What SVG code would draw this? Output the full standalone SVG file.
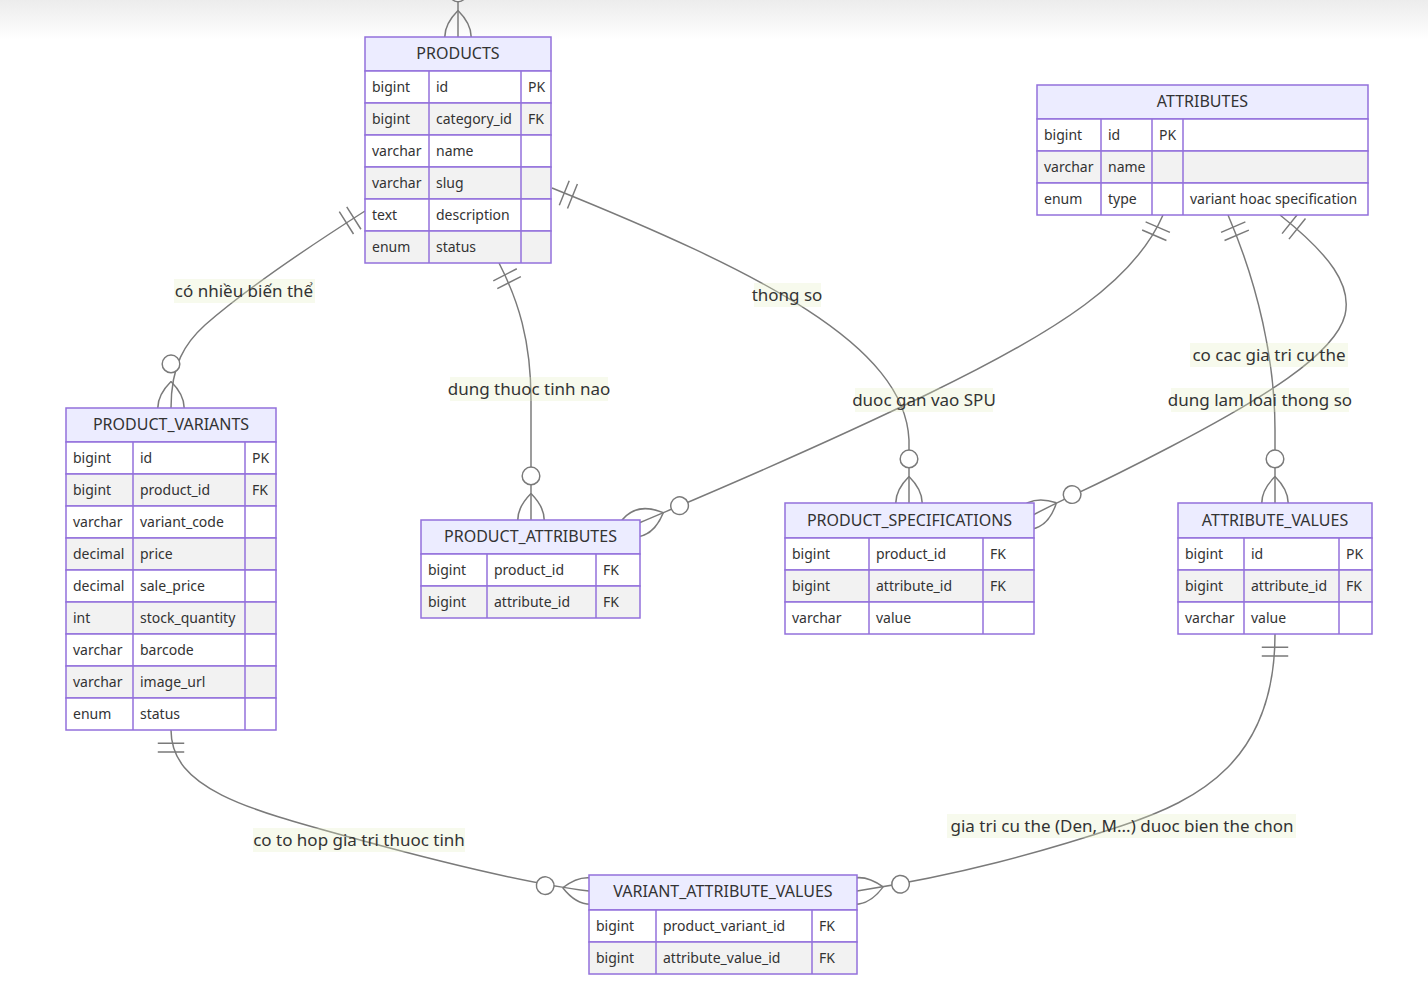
<svg xmlns="http://www.w3.org/2000/svg" width="1428" height="992" viewBox="0 0 1428 992">
<defs>
<linearGradient id="topShade" x1="0" y1="0" x2="0" y2="1">
<stop offset="0" stop-color="#ececec"/>
<stop offset="1" stop-color="#ffffff"/>
</linearGradient>
<marker id="oneStart" refX="0" refY="9" markerWidth="18" markerHeight="18" orient="auto" overflow="visible">
<path d="M9,0 L9,18 M15,0 L15,18" class="mk"/>
</marker>
<marker id="manyEnd" refX="39" refY="18" markerWidth="57" markerHeight="36" orient="auto" overflow="visible">
<circle cx="9" cy="18" r="6" class="mkc"/>
<path d="M21,18 Q39,0 57,18 Q39,36 21,18" class="mk"/>
</marker>
</defs>
<style>
.mk{fill:none;stroke:#7a7a7a;stroke-width:1}
.mkc{fill:#ffffff;stroke:#7a7a7a;stroke-width:1}
.rel{fill:none;stroke:#7a7a7a;stroke-width:1.47;marker-start:url(#oneStart);marker-end:url(#manyEnd)}
.relnostart{fill:none;stroke:#7a7a7a;stroke-width:1.47;marker-end:url(#manyEnd)}
.lblbg{fill:#e1eec0;opacity:0.28}
.lbl{font-family:"Noto Sans",sans-serif;font-size:17px;fill:#333;text-anchor:middle}
.hd{fill:#ececff;stroke:#9370db;stroke-width:1.5}
.ro{fill:#ffffff;stroke:#9370db;stroke-width:1.5}
.re{fill:#f2f2f2;stroke:#9370db;stroke-width:1.5}
.cl{stroke:#9370db;stroke-width:1.5}
.ht{font-family:"Noto Sans",sans-serif;font-size:16px;fill:#333;text-anchor:middle}
.t{font-family:"Noto Sans",sans-serif;font-size:14px;fill:#333}
</style>
<rect x="0" y="0" width="1428" height="992" fill="#ffffff"/>
<rect x="0" y="0" width="1428" height="40" fill="url(#topShade)"/>

<g id="connectors">
<path class="relnostart" d="M458,-80 L458,37"/>
<path class="rel" d="M365,211 C310,246 245,290 205,325 C185,343 171,365 171,408"/>
<path class="rel" d="M499,263 C518,300 531,340 531,400 L531,520"/>
<path class="rel" d="M552,188 C760,272 905,345 909,440 L909,503"/>
<path class="rel" d="M1163,215 C1135,280 1060,330 930,393 S700,497 639,523"/>
<path class="rel" d="M1228,215 C1258,285 1275,360 1275,430 L1275,503"/>
<path class="rel" d="M1280,215 C1330,255 1352,285 1345,315 C1335,355 1260,400 1170,447 S1075,493 1033,515"/>
<path class="rel" d="M171,730 C171,790 250,810 360,840 S540,885 589,891"/>
<path class="rel" d="M1275,634 C1275,760 1200,800 1121,826 S960,875 857,891"/>
<g id="labels">
<rect class="lblbg" x="174" y="279" width="141" height="24"/>
<text class="lbl" x="244" y="297">có nhiều biến thể</text>
<rect class="lblbg" x="450" y="377" width="158" height="24"/>
<text class="lbl" x="529" y="395">dung thuoc tinh nao</text>
<rect class="lblbg" x="754" y="283" width="67" height="24"/>
<text class="lbl" x="787" y="301">thong so</text>
<rect class="lblbg" x="855" y="388" width="138" height="24"/>
<text class="lbl" x="924" y="406">duoc gan vao SPU</text>
<rect class="lblbg" x="1190" y="343" width="158" height="24"/>
<text class="lbl" x="1269" y="361">co cac gia tri cu the</text>
<rect class="lblbg" x="1171" y="388" width="178" height="24"/>
<text class="lbl" x="1260" y="406">dung lam loai thong so</text>
<rect class="lblbg" x="253" y="828" width="212" height="24"/>
<text class="lbl" x="359" y="846">co to hop gia tri thuoc tinh</text>
<rect class="lblbg" x="947" y="814" width="349" height="24"/>
<text class="lbl" x="1122" y="832">gia tri cu the (Den, M...) duoc bien the chon</text>
</g>
</g>

<g id="PRODUCTS">
<rect class="hd" x="365" y="37" width="186" height="34"/>
<text class="ht" x="458" y="59">PRODUCTS</text>
<rect class="ro" x="365" y="71" width="186" height="32"/>
<rect class="re" x="365" y="103" width="186" height="32"/>
<rect class="ro" x="365" y="135" width="186" height="32"/>
<rect class="re" x="365" y="167" width="186" height="32"/>
<rect class="ro" x="365" y="199" width="186" height="32"/>
<rect class="re" x="365" y="231" width="186" height="32"/>
<line class="cl" x1="429" y1="71" x2="429" y2="263"/>
<line class="cl" x1="521" y1="71" x2="521" y2="263"/>
<text class="t" x="372" y="92">bigint</text><text class="t" x="436" y="92">id</text><text class="t" x="528" y="92">PK</text>
<text class="t" x="372" y="124">bigint</text><text class="t" x="436" y="124">category_id</text><text class="t" x="528" y="124">FK</text>
<text class="t" x="372" y="156">varchar</text><text class="t" x="436" y="156">name</text>
<text class="t" x="372" y="188">varchar</text><text class="t" x="436" y="188">slug</text>
<text class="t" x="372" y="220">text</text><text class="t" x="436" y="220">description</text>
<text class="t" x="372" y="252">enum</text><text class="t" x="436" y="252">status</text>
</g>

<g id="ATTRIBUTES">
<rect class="hd" x="1037" y="85" width="331" height="34"/>
<text class="ht" x="1202.5" y="107">ATTRIBUTES</text>
<rect class="ro" x="1037" y="119" width="331" height="32"/>
<rect class="re" x="1037" y="151" width="331" height="32"/>
<rect class="ro" x="1037" y="183" width="331" height="32"/>
<line class="cl" x1="1101" y1="119" x2="1101" y2="215"/>
<line class="cl" x1="1152" y1="119" x2="1152" y2="215"/>
<line class="cl" x1="1183" y1="119" x2="1183" y2="215"/>
<text class="t" x="1044" y="140">bigint</text><text class="t" x="1108" y="140">id</text><text class="t" x="1159" y="140">PK</text>
<text class="t" x="1044" y="172">varchar</text><text class="t" x="1108" y="172">name</text>
<text class="t" x="1044" y="204">enum</text><text class="t" x="1108" y="204">type</text><text class="t" x="1190" y="204">variant hoac specification</text>
</g>

<g id="PRODUCT_VARIANTS">
<rect class="hd" x="66" y="408" width="210" height="34"/>
<text class="ht" x="171" y="430">PRODUCT_VARIANTS</text>
<rect class="ro" x="66" y="442" width="210" height="32"/>
<rect class="re" x="66" y="474" width="210" height="32"/>
<rect class="ro" x="66" y="506" width="210" height="32"/>
<rect class="re" x="66" y="538" width="210" height="32"/>
<rect class="ro" x="66" y="570" width="210" height="32"/>
<rect class="re" x="66" y="602" width="210" height="32"/>
<rect class="ro" x="66" y="634" width="210" height="32"/>
<rect class="re" x="66" y="666" width="210" height="32"/>
<rect class="ro" x="66" y="698" width="210" height="32"/>
<line class="cl" x1="133" y1="442" x2="133" y2="730"/>
<line class="cl" x1="245" y1="442" x2="245" y2="730"/>
<text class="t" x="73" y="463">bigint</text><text class="t" x="140" y="463">id</text><text class="t" x="252" y="463">PK</text>
<text class="t" x="73" y="495">bigint</text><text class="t" x="140" y="495">product_id</text><text class="t" x="252" y="495">FK</text>
<text class="t" x="73" y="527">varchar</text><text class="t" x="140" y="527">variant_code</text>
<text class="t" x="73" y="559">decimal</text><text class="t" x="140" y="559">price</text>
<text class="t" x="73" y="591">decimal</text><text class="t" x="140" y="591">sale_price</text>
<text class="t" x="73" y="623">int</text><text class="t" x="140" y="623">stock_quantity</text>
<text class="t" x="73" y="655">varchar</text><text class="t" x="140" y="655">barcode</text>
<text class="t" x="73" y="687">varchar</text><text class="t" x="140" y="687">image_url</text>
<text class="t" x="73" y="719">enum</text><text class="t" x="140" y="719">status</text>
</g>

<g id="PRODUCT_ATTRIBUTES">
<rect class="hd" x="421" y="520" width="219" height="34"/>
<text class="ht" x="530.5" y="542">PRODUCT_ATTRIBUTES</text>
<rect class="ro" x="421" y="554" width="219" height="32"/>
<rect class="re" x="421" y="586" width="219" height="32"/>
<line class="cl" x1="487" y1="554" x2="487" y2="618"/>
<line class="cl" x1="596" y1="554" x2="596" y2="618"/>
<text class="t" x="428" y="575">bigint</text><text class="t" x="494" y="575">product_id</text><text class="t" x="603" y="575">FK</text>
<text class="t" x="428" y="607">bigint</text><text class="t" x="494" y="607">attribute_id</text><text class="t" x="603" y="607">FK</text>
</g>

<g id="PRODUCT_SPECIFICATIONS">
<rect class="hd" x="785" y="503" width="249" height="35"/>
<text class="ht" x="909.5" y="526">PRODUCT_SPECIFICATIONS</text>
<rect class="ro" x="785" y="538" width="249" height="32"/>
<rect class="re" x="785" y="570" width="249" height="32"/>
<rect class="ro" x="785" y="602" width="249" height="32"/>
<line class="cl" x1="869" y1="538" x2="869" y2="634"/>
<line class="cl" x1="983" y1="538" x2="983" y2="634"/>
<text class="t" x="792" y="559">bigint</text><text class="t" x="876" y="559">product_id</text><text class="t" x="990" y="559">FK</text>
<text class="t" x="792" y="591">bigint</text><text class="t" x="876" y="591">attribute_id</text><text class="t" x="990" y="591">FK</text>
<text class="t" x="792" y="623">varchar</text><text class="t" x="876" y="623">value</text>
</g>

<g id="ATTRIBUTE_VALUES">
<rect class="hd" x="1178" y="503" width="194" height="35"/>
<text class="ht" x="1275" y="526">ATTRIBUTE_VALUES</text>
<rect class="ro" x="1178" y="538" width="194" height="32"/>
<rect class="re" x="1178" y="570" width="194" height="32"/>
<rect class="ro" x="1178" y="602" width="194" height="32"/>
<line class="cl" x1="1244" y1="538" x2="1244" y2="634"/>
<line class="cl" x1="1339" y1="538" x2="1339" y2="634"/>
<text class="t" x="1185" y="559">bigint</text><text class="t" x="1251" y="559">id</text><text class="t" x="1346" y="559">PK</text>
<text class="t" x="1185" y="591">bigint</text><text class="t" x="1251" y="591">attribute_id</text><text class="t" x="1346" y="591">FK</text>
<text class="t" x="1185" y="623">varchar</text><text class="t" x="1251" y="623">value</text>
</g>

<g id="VARIANT_ATTRIBUTE_VALUES">
<rect class="hd" x="589" y="875" width="268" height="35"/>
<text class="ht" x="723" y="897">VARIANT_ATTRIBUTE_VALUES</text>
<rect class="ro" x="589" y="910" width="268" height="32"/>
<rect class="re" x="589" y="942" width="268" height="32"/>
<line class="cl" x1="656" y1="910" x2="656" y2="974"/>
<line class="cl" x1="812" y1="910" x2="812" y2="974"/>
<text class="t" x="596" y="931">bigint</text><text class="t" x="663" y="931">product_variant_id</text><text class="t" x="819" y="931">FK</text>
<text class="t" x="596" y="963">bigint</text><text class="t" x="663" y="963">attribute_value_id</text><text class="t" x="819" y="963">FK</text>
</g>
</svg>
